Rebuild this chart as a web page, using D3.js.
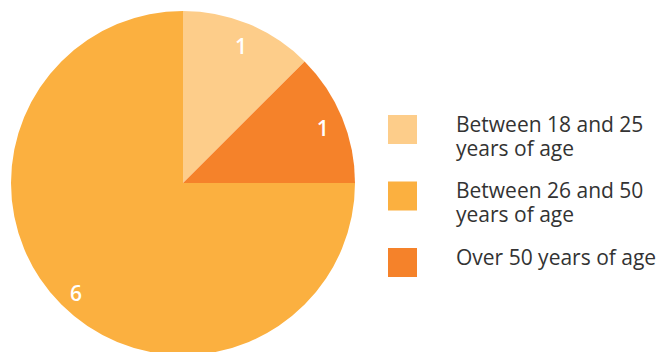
<!DOCTYPE html>
<html>
<head>
<meta charset="utf-8">
<script src="https://cdn.jsdelivr.net/npm/d3@7"></script>
<style>
  body { margin: 0; background: #fff; }
  svg { display: block; font-family: "Open Sans", sans-serif; }
</style>
</head>
<body>
<div id="chart"></div>
<script>
// legend order
const categories = ["Between 18 and 25 years of age", "Between 26 and 50 years of age", "Over 50 years of age"];
const legendLines = [["Between 18 and 25", "years of age"], ["Between 26 and 50", "years of age"], ["Over 50 years of age"]];
const values = [1, 6, 1];
const colors = ["#fdcd8a", "#fbb040", "#f5822a"];
// clockwise order of slices starting at 12 o'clock
const sliceOrder = [0, 2, 1];

const width = 662, height = 352;
const cx = 183, cy = 183, radius = 172;

const svg = d3.select("#chart").append("svg")
  .attr("width", width)
  .attr("height", height);

const data = categories.map((c, i) => ({ category: c, value: values[i], color: colors[i] }));

const pie = d3.pie()
  .value((d) => d.value)
  .sort((a, b) => sliceOrder.indexOf(categories.indexOf(a.category)) - sliceOrder.indexOf(categories.indexOf(b.category)));

const arc = d3.arc().innerRadius(0).outerRadius(radius);
const labelArc = d3.arc().innerRadius(radius * 0.88).outerRadius(radius * 0.88);

const pieG = svg.append("g").attr("transform", `translate(${cx},${cy})`);

const arcs = pie(data);

pieG.selectAll("path.slice")
  .data(arcs)
  .join("path")
  .attr("class", "slice")
  .attr("d", arc)
  .attr("fill", (d) => d.data.color);

pieG.selectAll("text.value")
  .data(arcs)
  .join("text")
  .attr("class", "value")
  .attr("transform", (d) => `translate(${labelArc.centroid(d)})`)
  .attr("text-anchor", "middle")
  .attr("dy", "0.52em")
  .attr("font-size", "21px")
  .attr("font-weight", 600)
  .attr("fill", "#fff")
  .text((d) => d.data.value);

// Legend
const legendY = d3.scalePoint().domain(categories).range([115, 248]);

const legendG = svg.append("g").attr("class", "legend");
const item = legendG.selectAll("g.item")
  .data(data)
  .join("g")
  .attr("class", "item")
  .attr("transform", (d) => `translate(388,${legendY(d.category)})`);

item.append("rect")
  .attr("width", 29)
  .attr("height", 29)
  .attr("fill", (d) => d.color);

item.append("text")
  .attr("font-size", "21px")
  .attr("fill", "#333")
  .selectAll("tspan")
  .data((d, i) => legendLines[i].map((t, j) => ({ t, j })))
  .join("tspan")
  .attr("x", 68)
  .attr("y", (d) => 16.5 + d.j * 24)
  .text((d) => d.t);
</script>
</body>
</html>
